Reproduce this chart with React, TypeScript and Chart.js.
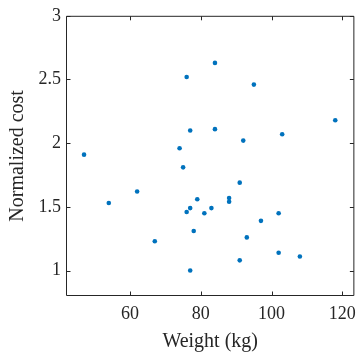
import React, { useEffect, useRef } from "react";
import { Chart, registerables } from "chart.js";

Chart.register(...registerables);

const weights = [76, 84, 95, 118, 77, 84, 92, 103, 47, 74, 75, 91, 62, 54, 79, 88, 88, 77, 76, 83, 81, 102, 97, 78, 93, 67, 77, 91, 102, 108];
const costs = [2.52, 2.63, 2.46, 2.18, 2.1, 2.11, 2.02, 2.07, 1.91, 1.96, 1.81, 1.69, 1.62, 1.53, 1.56, 1.57, 1.54, 1.49, 1.46, 1.49, 1.45, 1.45, 1.39, 1.31, 1.26, 1.23, 1.0, 1.08, 1.14, 1.11];
const xTicks = [60, 80, 100, 120];
const yTicks = [1, 1.5, 2, 2.5, 3];
const xTitle = "Weight (kg)";
const yTitle = "Normalized cost";

const AXIS = "#262626";
const FONT = '"Liberation Serif", "Times New Roman", serif';

const boxPlugin = {
  id: "boxTicks",
  afterDraw(chart: any) {
    const { ctx, chartArea: a, scales } = chart;
    const x = scales.x;
    const y = scales.y;
    const L = a.left + 0.5, R = a.right - 0.5, T = a.top + 0.5, B = a.bottom - 0.5;
    const tl = 4;
    ctx.save();
    ctx.strokeStyle = AXIS;
    ctx.lineWidth = 1;
    ctx.beginPath();
    ctx.rect(L, T, R - L, B - T);
    xTicks.forEach((v) => {
      const px = Math.round(x.getPixelForValue(v)) + 0.5;
      ctx.moveTo(px, B); ctx.lineTo(px, B - tl);
      ctx.moveTo(px, T); ctx.lineTo(px, T + tl);
    });
    yTicks.forEach((v) => {
      const py = Math.round(y.getPixelForValue(v)) + 0.5;
      ctx.moveTo(L, py); ctx.lineTo(L + tl, py);
      ctx.moveTo(R, py); ctx.lineTo(R - tl, py);
    });
    ctx.stroke();
    ctx.restore();
  },
};

export default function App() {
  const ref = useRef<HTMLCanvasElement>(null);
  useEffect(() => {
    document.body.style.margin = "0";
    const chart = new Chart(ref.current!, {
      type: "scatter",
      data: {
        datasets: [
          {
            data: weights.map((w, i) => ({ x: w, y: costs[i] })),
            backgroundColor: "#0072BD",
            borderWidth: 0,
            pointRadius: 2.3,
          },
        ],
      },
      options: {
        responsive: false,
        animation: false,
        devicePixelRatio: 1,
        layout: { padding: { top: 15, right: 3, left: 0, bottom: 0 } },
        plugins: { legend: { display: false }, tooltip: { enabled: false } },
        scales: {
          x: {
            type: "linear",
            min: 41.9,
            max: 123.4,
            afterBuildTicks: (s: any) => { s.ticks = xTicks.map((v) => ({ value: v })); },
            afterFit: (s: any) => { s.height = 62; },
            grid: { display: false, drawTicks: false },
            border: { display: false },
            ticks: { color: AXIS, font: { family: FONT, size: 18 }, padding: 7, maxRotation: 0, autoSkip: false },
            title: { display: true, text: xTitle, color: AXIS, font: { family: FONT, size: 20 }, padding: { top: 0, bottom: 4 } },
          },
          y: {
            type: "linear",
            min: 0.8,
            max: 3,
            afterBuildTicks: (s: any) => { s.ticks = yTicks.map((v) => ({ value: v })); },
            afterFit: (s: any) => { s.width = 66; },
            grid: { display: false, drawTicks: false },
            border: { display: false },
            ticks: { color: AXIS, font: { family: FONT, size: 18 }, padding: 5, autoSkip: false, callback: (v: any) => String(v) },
            title: { display: true, text: yTitle, color: AXIS, font: { family: FONT, size: 20 }, padding: { top: 6, bottom: 0 } },
          },
        },
      },
      plugins: [boxPlugin],
    });
    return () => chart.destroy();
  }, []);
  return (
    <div style={{ width: 363, height: 358 }}>
      <canvas ref={ref} width={363} height={358} style={{ display: "block" }} />
    </div>
  );
}
